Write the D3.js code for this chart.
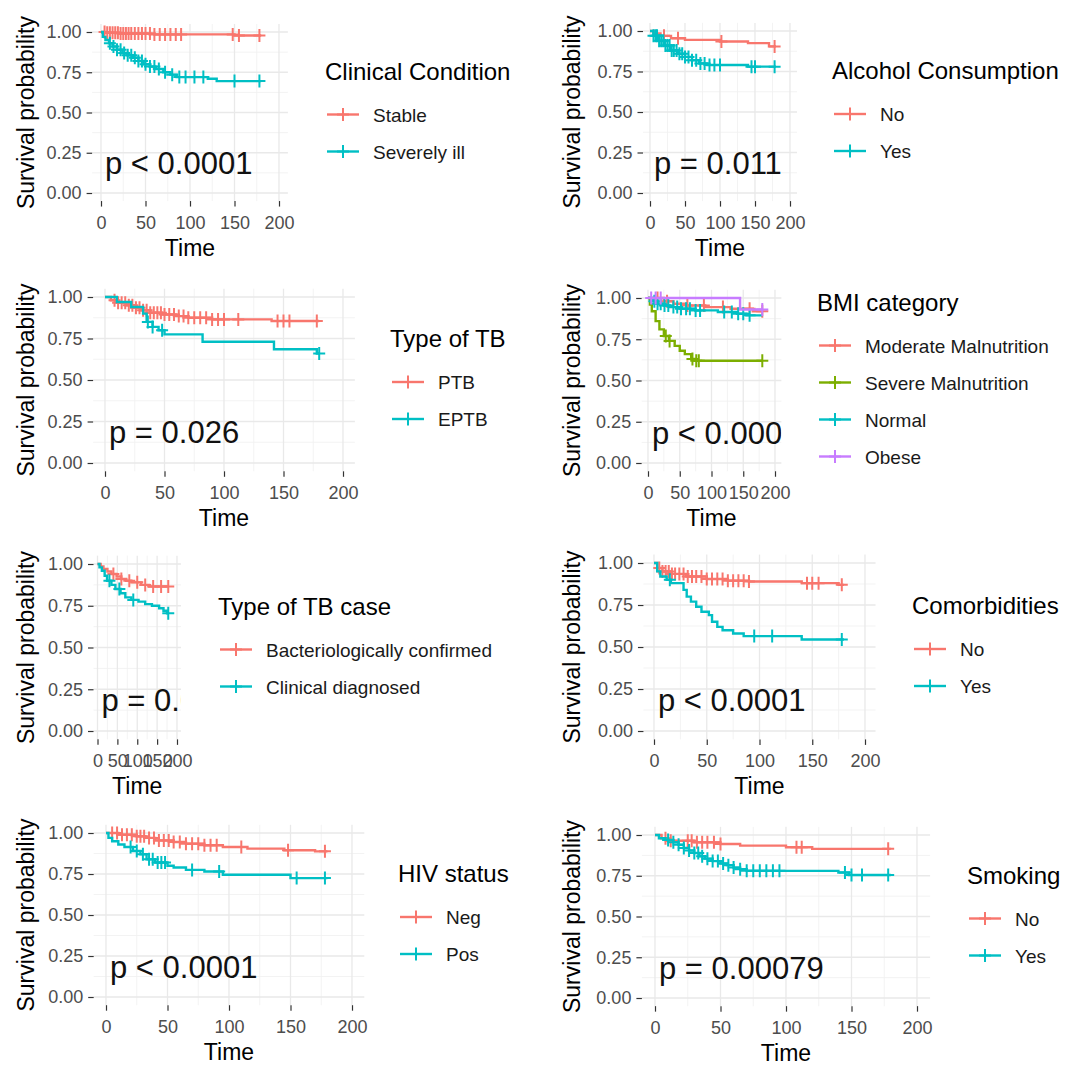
<!DOCTYPE html>
<html>
<head>
<meta charset="utf-8">
<script src="https://cdn.jsdelivr.net/npm/d3@7"></script>
<style>
  body { margin: 0; background: #fff; }
  text { font-family: "Liberation Sans", Arial, Helvetica, sans-serif; }
</style>
</head>
<body>
<div id="chart"></div>
<script>
// ---- axis breaks ----
const timeTicks = [0, 50, 100, 150, 200];
const probTicks = [0, 0.25, 0.5, 0.75, 1];
const hue2 = ['#F8766D', '#00BFC4'];
const hue4 = ['#F8766D', '#7CAE00', '#00BFC4', '#C77CFF'];

// ---- KM steps [time, survival] and censor times ----
// Clinical Condition
const clinicalGroups = ['Stable', 'Severely ill'];
const clinicalStable = [[0,1],[6,0.995],[20,0.99],[60,0.985],[150,0.978],[180,0.978]];
const clinicalStableCens = [4,7,10,13,16,19,22,25,28,31,34,38,42,46,50,55,60,66,72,78,84,90,148,155,178];
const clinicalSevere = [[0,1],[2,0.97],[5,0.95],[9,0.93],[13,0.91],[18,0.89],[24,0.87],[30,0.855],[36,0.84],[42,0.82],[48,0.80],[55,0.785],[62,0.77],[70,0.75],[78,0.735],[85,0.72],[120,0.71],[130,0.695],[180,0.695]];
const clinicalSevereCens = [10,14,18,22,26,30,34,38,42,46,50,55,60,65,72,80,88,95,105,115,150,178];

// Alcohol Consumption
const alcoholGroups = ['No', 'Yes'];
const alcoholNo = [[0,1],[5,0.985],[15,0.97],[30,0.955],[50,0.945],[100,0.935],[140,0.925],[170,0.905],[180,0.905]];
const alcoholNoCens = [20,40,102,178];
const alcoholYes = [[0,1],[5,0.97],[12,0.94],[20,0.91],[30,0.88],[40,0.86],[50,0.84],[60,0.82],[70,0.80],[82,0.79],[140,0.78],[180,0.78]];
const alcoholYesCens = [5,8,10,13,16,19,22,25,28,31,34,38,42,46,50,55,60,66,72,78,85,92,100,145,150,178];

// Type of TB
const tbGroups = ['PTB', 'EPTB'];
const tbPTB = [[0,1],[5,0.98],[10,0.965],[18,0.95],[24,0.935],[30,0.92],[38,0.905],[48,0.895],[60,0.885],[70,0.875],[90,0.865],[140,0.855],[180,0.855]];
const tbPTBCens = [8,11,14,17,20,23,26,29,32,35,38,41,44,47,50,54,58,62,66,70,75,80,85,90,95,100,112,145,150,155,178];
const tbEPTB = [[0,1],[10,0.97],[22,0.94],[32,0.90],[35,0.85],[40,0.82],[45,0.80],[50,0.775],[82,0.73],[142,0.685],[178,0.66],[180,0.66]];
const tbEPTBCens = [36,40,48,180];

// BMI category
const bmiGroups = ['Moderate Malnutrition', 'Severe Malnutrition', 'Normal', 'Obese'];
const bmiModerate = [[0,1],[25,0.98],[40,0.965],[60,0.955],[90,0.945],[130,0.935],[165,0.92],[180,0.92]];
const bmiModerateCens = [15,30,62,88,118,160,180];
const bmiSevere = [[0,1],[3,0.96],[6,0.92],[12,0.86],[18,0.81],[25,0.77],[33,0.74],[42,0.71],[50,0.68],[58,0.66],[68,0.63],[75,0.62],[180,0.62]];
const bmiSevereCens = [28,34,70,76,80,180];
const bmiNormal = [[0,1],[8,0.98],[15,0.965],[25,0.955],[35,0.945],[50,0.935],[75,0.925],[110,0.915],[140,0.905],[155,0.895],[180,0.895]];
const bmiNormalCens = [10,15,20,26,32,40,46,52,60,66,75,82,120,132,142,150,160];
const bmiObese = [[0,1],[145,0.93],[180,0.93]];
const bmiObeseCens = [5,12,20,180];

// Type of TB case
const caseGroups = ['Bacteriologically confirmed', 'Clinical diagnosed'];
const caseBact = [[0,1],[8,0.985],[15,0.97],[25,0.955],[35,0.94],[48,0.925],[60,0.91],[72,0.9],[85,0.89],[110,0.875],[130,0.865],[180,0.865]];
const caseBactCens = [40,60,80,100,120,140,160,178];
const caseClin = [[0,1],[5,0.98],[11,0.96],[18,0.93],[24,0.90],[35,0.875],[45,0.85],[58,0.825],[70,0.80],[85,0.785],[103,0.775],[120,0.76],[137,0.75],[155,0.735],[166,0.72],[175,0.705],[180,0.705]];
const caseClinCens = [30,55,90,178];

// Comorbidities
const comorbGroups = ['No', 'Yes'];
const comorbNo = [[0,1],[3,0.97],[8,0.95],[15,0.935],[30,0.92],[50,0.905],[70,0.895],[90,0.89],[140,0.88],[175,0.87],[180,0.87]];
const comorbNoCens = [5,8,11,14,17,20,24,28,32,36,40,45,50,55,60,65,70,75,80,85,90,145,150,156,178];
const comorbYes = [[0,1],[3,0.95],[6,0.92],[12,0.90],[16,0.88],[28,0.84],[31,0.80],[35,0.77],[40,0.74],[45,0.71],[52,0.69],[55,0.65],[60,0.62],[65,0.60],[75,0.58],[85,0.565],[140,0.545],[180,0.545]];
const comorbYesCens = [15,95,112,178];

// HIV status
const hivGroups = ['Neg', 'Pos'];
const hivNeg = [[0,1],[10,0.99],[25,0.98],[32,0.97],[40,0.955],[55,0.945],[65,0.935],[80,0.925],[95,0.915],[115,0.905],[145,0.895],[170,0.888],[180,0.888]];
const hivNegCens = [5,9,13,17,21,25,28,31,35,39,43,47,51,55,60,65,70,75,80,85,90,110,148,178];
const hivPos = [[0,1],[2,0.97],[5,0.95],[10,0.93],[15,0.915],[22,0.89],[28,0.87],[33,0.84],[40,0.82],[50,0.80],[55,0.79],[65,0.775],[80,0.765],[95,0.745],[150,0.725],[180,0.725]];
const hivPosCens = [20,25,30,35,38,42,45,48,70,92,155,178];

// Smoking
const smokeGroups = ['No', 'Yes'];
const smokeNo = [[0,1],[5,0.98],[9,0.965],[30,0.955],[50,0.945],[65,0.935],[100,0.925],[120,0.915],[180,0.915]];
const smokeNoCens = [8,12,25,28,32,36,40,45,50,108,112,178];
const smokeYes = [[0,1],[3,0.98],[8,0.97],[14,0.955],[18,0.94],[22,0.92],[26,0.905],[30,0.89],[34,0.87],[38,0.855],[44,0.84],[50,0.825],[55,0.815],[60,0.80],[65,0.79],[70,0.78],[140,0.77],[148,0.755],[180,0.755]];
const smokeYesCens = [10,14,18,22,26,30,33,36,40,44,48,52,56,60,65,70,75,80,85,90,95,145,150,158,178];

const panels = [
  { title: 'Clinical Condition', groups: clinicalGroups, colors: hue2, curves: [clinicalStable, clinicalSevere], cens: [clinicalStableCens, clinicalSevereCens], pval: 'p < 0.0001' },
  { title: 'Alcohol Consumption', groups: alcoholGroups, colors: hue2, curves: [alcoholNo, alcoholYes], cens: [alcoholNoCens, alcoholYesCens], pval: 'p = 0.011' },
  { title: 'Type of TB', groups: tbGroups, colors: hue2, curves: [tbPTB, tbEPTB], cens: [tbPTBCens, tbEPTBCens], pval: 'p = 0.026' },
  { title: 'BMI category', groups: bmiGroups, colors: hue4, curves: [bmiModerate, bmiSevere, bmiNormal, bmiObese], cens: [bmiModerateCens, bmiSevereCens, bmiNormalCens, bmiObeseCens], pval: 'p < 0.0001' },
  { title: 'Type of TB case', groups: caseGroups, colors: hue2, curves: [caseBact, caseClin], cens: [caseBactCens, caseClinCens], pval: 'p = 0.001' },
  { title: 'Comorbidities', groups: comorbGroups, colors: hue2, curves: [comorbNo, comorbYes], cens: [comorbNoCens, comorbYesCens], pval: 'p < 0.0001' },
  { title: 'HIV status', groups: hivGroups, colors: hue2, curves: [hivNeg, hivPos], cens: [hivNegCens, hivPosCens], pval: 'p < 0.0001' },
  { title: 'Smoking', groups: smokeGroups, colors: hue2, curves: [smokeNo, smokeYes], cens: [smokeNoCens, smokeYesCens], pval: 'p = 0.00079' }
];

// ---- layout: pixel ranges of each panel (x at t=0/200, y at p=1/0), legend left, y-title x ----
const layout = [
  { x0: 101, x200: 279, y1: 32, y0: 193, legendX: 325, titleX: 26 },
  { x0: 650, x200: 790, y1: 31, y0: 193, legendX: 832, titleX: 572 },
  { x0: 105, x200: 343, y1: 297, y0: 463, legendX: 390, titleX: 26 },
  { x0: 648, x200: 775, y1: 298, y0: 463, legendX: 817, titleX: 572 },
  { x0: 97.5, x200: 177, y1: 564, y0: 731, legendX: 218, titleX: 26 },
  { x0: 654, x200: 865, y1: 563, y0: 731, legendX: 912, titleX: 572 },
  { x0: 106, x200: 352, y1: 833, y0: 997, legendX: 398, titleX: 26 },
  { x0: 655, x200: 917, y1: 835, y0: 998, legendX: 967, titleX: 572 }
];

const W = 1078, H = 1065;
const svg = d3.select('#chart').append('svg')
  .attr('width', W).attr('height', H)
  .style('background', '#fff');

const plus = 'M-6,0H6M0,-6.5V6.5';
const survAt = (steps, t) => {
  let s = steps[0][1];
  steps.forEach(d => { if (d[0] <= t) s = d[1]; });
  return s;
};

panels.forEach((p, i) => {
  const L = layout[i];
  const x = d3.scaleLinear().domain([0, 200]).range([L.x0, L.x200]);
  const y = d3.scaleLinear().domain([0, 1]).range([L.y0, L.y1]);
  const left = x(-10), right = x(210), top = y(1.05), bottom = y(-0.05);
  const g = svg.append('g');

  // grid, minor then major
  const xMinor = d3.pairs(timeTicks).map(([a, b]) => (a + b) / 2);
  const yMinor = d3.pairs(probTicks).map(([a, b]) => (a + b) / 2);
  g.selectAll('.xminor').data(xMinor).join('line')
    .attr('x1', d => x(d)).attr('x2', d => x(d)).attr('y1', top).attr('y2', bottom)
    .attr('stroke', '#f2f2f2').attr('stroke-width', 0.9);
  g.selectAll('.yminor').data(yMinor).join('line')
    .attr('y1', d => y(d)).attr('y2', d => y(d)).attr('x1', left).attr('x2', right)
    .attr('stroke', '#f2f2f2').attr('stroke-width', 0.9);
  g.selectAll('.xmajor').data(timeTicks).join('line')
    .attr('x1', d => x(d)).attr('x2', d => x(d)).attr('y1', top).attr('y2', bottom)
    .attr('stroke', '#e9e9e9').attr('stroke-width', 1.3);
  g.selectAll('.ymajor').data(probTicks).join('line')
    .attr('y1', d => y(d)).attr('y2', d => y(d)).attr('x1', left).attr('x2', right)
    .attr('stroke', '#e9e9e9').attr('stroke-width', 1.3);

  // axes (ticks + labels, no domain line)
  const xAxis = d3.axisBottom(x).tickValues(timeTicks).tickSize(5.5).tickPadding(9).tickFormat(d3.format('d'));
  const yAxis = d3.axisLeft(y).tickValues(probTicks).tickSize(5.5).tickPadding(5).tickFormat(d3.format('.2f'));
  const gx = g.append('g').attr('transform', `translate(0,${bottom})`).call(xAxis);
  const gy = g.append('g').attr('transform', `translate(${left},0)`).call(yAxis);
  [gx, gy].forEach(a => {
    a.select('.domain').remove();
    a.selectAll('.tick line').attr('stroke', '#333').attr('stroke-width', 1.2);
    a.selectAll('.tick text').attr('fill', '#4d4d4d').attr('font-size', 18)
      .attr('font-family', '"Liberation Sans", Arial, sans-serif');
  });
  gx.selectAll('.tick text').attr('dy', '0.75em');

  // axis titles
  g.append('text')
    .attr('x', x(100))
    .attr('y', bottom + 55)
    .attr('text-anchor', 'middle').attr('font-size', 23).attr('fill', '#000')
    .text('Time');
  g.append('text')
    .attr('transform', `translate(${L.titleX + 8},${(top + bottom) / 2}) rotate(-90)`)
    .attr('text-anchor', 'middle').attr('font-size', 23).attr('fill', '#000')
    .text('Survival probability');

  // clip to panel
  const clipId = 'clip' + i;
  g.append('clipPath').attr('id', clipId)
    .append('rect').attr('x', left).attr('y', top)
    .attr('width', right - left).attr('height', bottom - top);
  const plot = g.append('g').attr('clip-path', `url(#${clipId})`);

  const line = d3.line().x(d => x(d[0])).y(d => y(d[1])).curve(d3.curveStepAfter);
  p.curves.forEach((steps, k) => {
    plot.append('path').attr('d', line(steps))
      .attr('fill', 'none').attr('stroke', p.colors[k]).attr('stroke-width', 2.4);
    plot.selectAll(null).data(p.cens[k]).join('path')
      .attr('d', plus)
      .attr('transform', t => `translate(${x(t)},${y(survAt(steps, t))})`)
      .attr('stroke', p.colors[k]).attr('stroke-width', 2).attr('fill', 'none');
  });

  // p-value
  plot.append('text')
    .attr('x', x(0) + 4).attr('y', y(0.2) + 13.5)
    .attr('font-size', 31).attr('fill', '#111')
    .text(p.pval);

  // legend, vertically centred on the panel
  const n = p.groups.length;
  const block = 43 + 37 * (n - 1);
  const titleY = (top + bottom) / 2 - block / 2 - 1;
  const lg = g.append('g');
  lg.append('text').attr('x', L.legendX).attr('y', titleY + 8)
    .attr('font-size', 24).attr('fill', '#000').text(p.title);
  p.groups.forEach((name, k) => {
    const cy = titleY + 43 + 37 * k;
    lg.append('line').attr('x1', L.legendX + 2).attr('x2', L.legendX + 34)
      .attr('y1', cy).attr('y2', cy)
      .attr('stroke', p.colors[k]).attr('stroke-width', 2.4);
    lg.append('path').attr('d', plus).attr('transform', `translate(${L.legendX + 18},${cy})`)
      .attr('stroke', p.colors[k]).attr('stroke-width', 2);
    lg.append('text').attr('x', L.legendX + 48).attr('y', cy + 7)
      .attr('font-size', 19).attr('fill', '#1a1a1a').text(name);
  });
});
</script>
</body>
</html>
